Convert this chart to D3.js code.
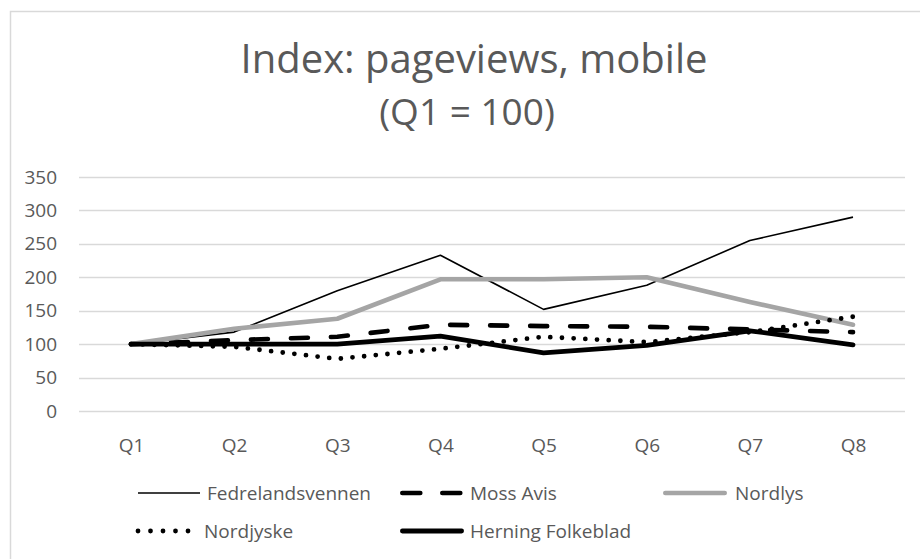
<!DOCTYPE html>
<html>
<head>
<meta charset="utf-8">
<script src="https://cdn.jsdelivr.net/npm/d3@7"></script>
<style>
  html, body { margin: 0; padding: 0; background: #fff; }
  svg { display: block; }
  text { font-family: "Open Sans", "Noto Sans", sans-serif; fill: #595959; }
</style>
</head>
<body>
<svg id="chart" width="920" height="559"></svg>
<script>
const categories = ["Q1", "Q2", "Q3", "Q4", "Q5", "Q6", "Q7", "Q8"];
const fedrelandsvennen = [100, 118, 180, 233, 152, 188, 255, 290];
const mossAvis = [100, 106, 111, 129, 127, 126, 122, 118];
const nordlys = [100, 123, 138, 197, 197, 200, 163, 129];
const nordjyske = [100, 96, 78, 93, 111, 103, 118, 141];
const herningFolkeblad = [100, 100, 100, 112, 87, 98, 120, 99];
const yTicks = [0, 50, 100, 150, 200, 250, 300, 350];
const titleLines = ["Index: pageviews, mobile", "(Q1 = 100)"];

const seriesNames = ["Fedrelandsvennen", "Moss Avis", "Nordlys", "Nordjyske", "Herning Folkeblad"];
const seriesValues = [fedrelandsvennen, mossAvis, nordlys, nordjyske, herningFolkeblad];

const styles = {
  "Fedrelandsvennen": { stroke: "#000", width: 1.6, dash: null, cap: "butt", legendDash: null },
  "Moss Avis": { stroke: "#000", width: 4.6, dash: "17,23", cap: "round", legendDash: "18,22" },
  "Nordlys": { stroke: "#a5a5a5", width: 4.6, dash: null, cap: "round", legendDash: null },
  "Nordjyske": { stroke: "#000", width: 4.8, dash: "0,11.7", cap: "round", legendDash: "0,12.5" },
  "Herning Folkeblad": { stroke: "#000", width: 4.8, dash: null, cap: "round", legendDash: null }
};

const svg = d3.select("#chart");

// outer border
svg.append("rect").attr("x", 10.5).attr("y", 11.5).attr("width", 930).attr("height", 560)
  .attr("fill", "none").attr("stroke", "#d9d9d9").attr("stroke-width", 1.5);

// title
const titleCenters = [474, 467];
const titleBaselines = [73, 125];
const titleSizes = [40, 37];
titleLines.forEach((t, i) => {
  svg.append("text").attr("x", titleCenters[i]).attr("y", titleBaselines[i])
    .attr("text-anchor", "middle").style("font-size", titleSizes[i] + "px").text(t);
});

const x = d3.scalePoint().domain(categories).range([131, 853]);
const y = d3.scaleLinear().domain([0, 350]).range([411, 177]);

// gridlines
svg.append("g").selectAll("line").data(yTicks).join("line")
  .attr("x1", 79).attr("x2", 905)
  .attr("y1", d => Math.round(y(d)) + 0.5).attr("y2", d => Math.round(y(d)) + 0.5)
  .attr("stroke", "#d9d9d9").attr("stroke-width", 1.3);

// y axis labels
const yAxis = d3.axisLeft(y).tickValues(yTicks).tickSize(0).tickPadding(0);
const gy = svg.append("g").attr("transform", "translate(57,0)").call(yAxis);
gy.select(".domain").remove();
gy.selectAll("text").style("font-size", "19px").attr("fill", "#595959")
  .style("font-family", "'Open Sans', sans-serif");

// x axis labels
const xAxis = d3.axisBottom(x).tickSize(0).tickPadding(0);
const gx = svg.append("g").attr("transform", "translate(0,438)").call(xAxis);
gx.select(".domain").remove();
gx.selectAll("text").style("font-size", "19px").attr("fill", "#595959")
  .style("font-family", "'Open Sans', sans-serif");

// lines
const line = d3.line().x((d, i) => x(categories[i])).y(d => y(d));
seriesNames.forEach((name, k) => {
  const s = styles[name];
  svg.append("path").datum(seriesValues[k]).attr("d", line)
    .attr("fill", "none").attr("stroke", s.stroke).attr("stroke-width", s.width)
    .attr("stroke-linecap", s.cap).attr("stroke-linejoin", "round")
    .attr("stroke-dasharray", s.dash);
});

// legend
const legendPos = [
  { x: 138, y: 493, tx: 69 }, { x: 400, y: 493, tx: 70 }, { x: 663, y: 493, tx: 72 },
  { x: 138, y: 531, tx: 66 }, { x: 400, y: 531, tx: 70 }
];
const lg = svg.append("g");
seriesNames.forEach((name, k) => {
  const s = styles[name];
  const p = legendPos[k];
  const g = lg.append("g").attr("transform", `translate(${p.x},${p.y})`);
  let x0 = 0, x1 = 62;
  if (name === "Nordjyske") { x0 = 0; x1 = 50.5; }
  else if (s.cap === "round") { x0 = s.width / 2; x1 = 64 - s.width / 2; }
  g.append("line").attr("x1", x0).attr("x2", x1).attr("y1", 0).attr("y2", 0)
    .attr("stroke", s.stroke).attr("stroke-width", s.width)
    .attr("stroke-linecap", s.cap).attr("stroke-dasharray", s.legendDash);
  g.append("text").attr("x", p.tx).attr("y", 0).attr("dy", "0.35em")
    .style("font-size", "19px").text(name);
});
</script>
</body>
</html>
